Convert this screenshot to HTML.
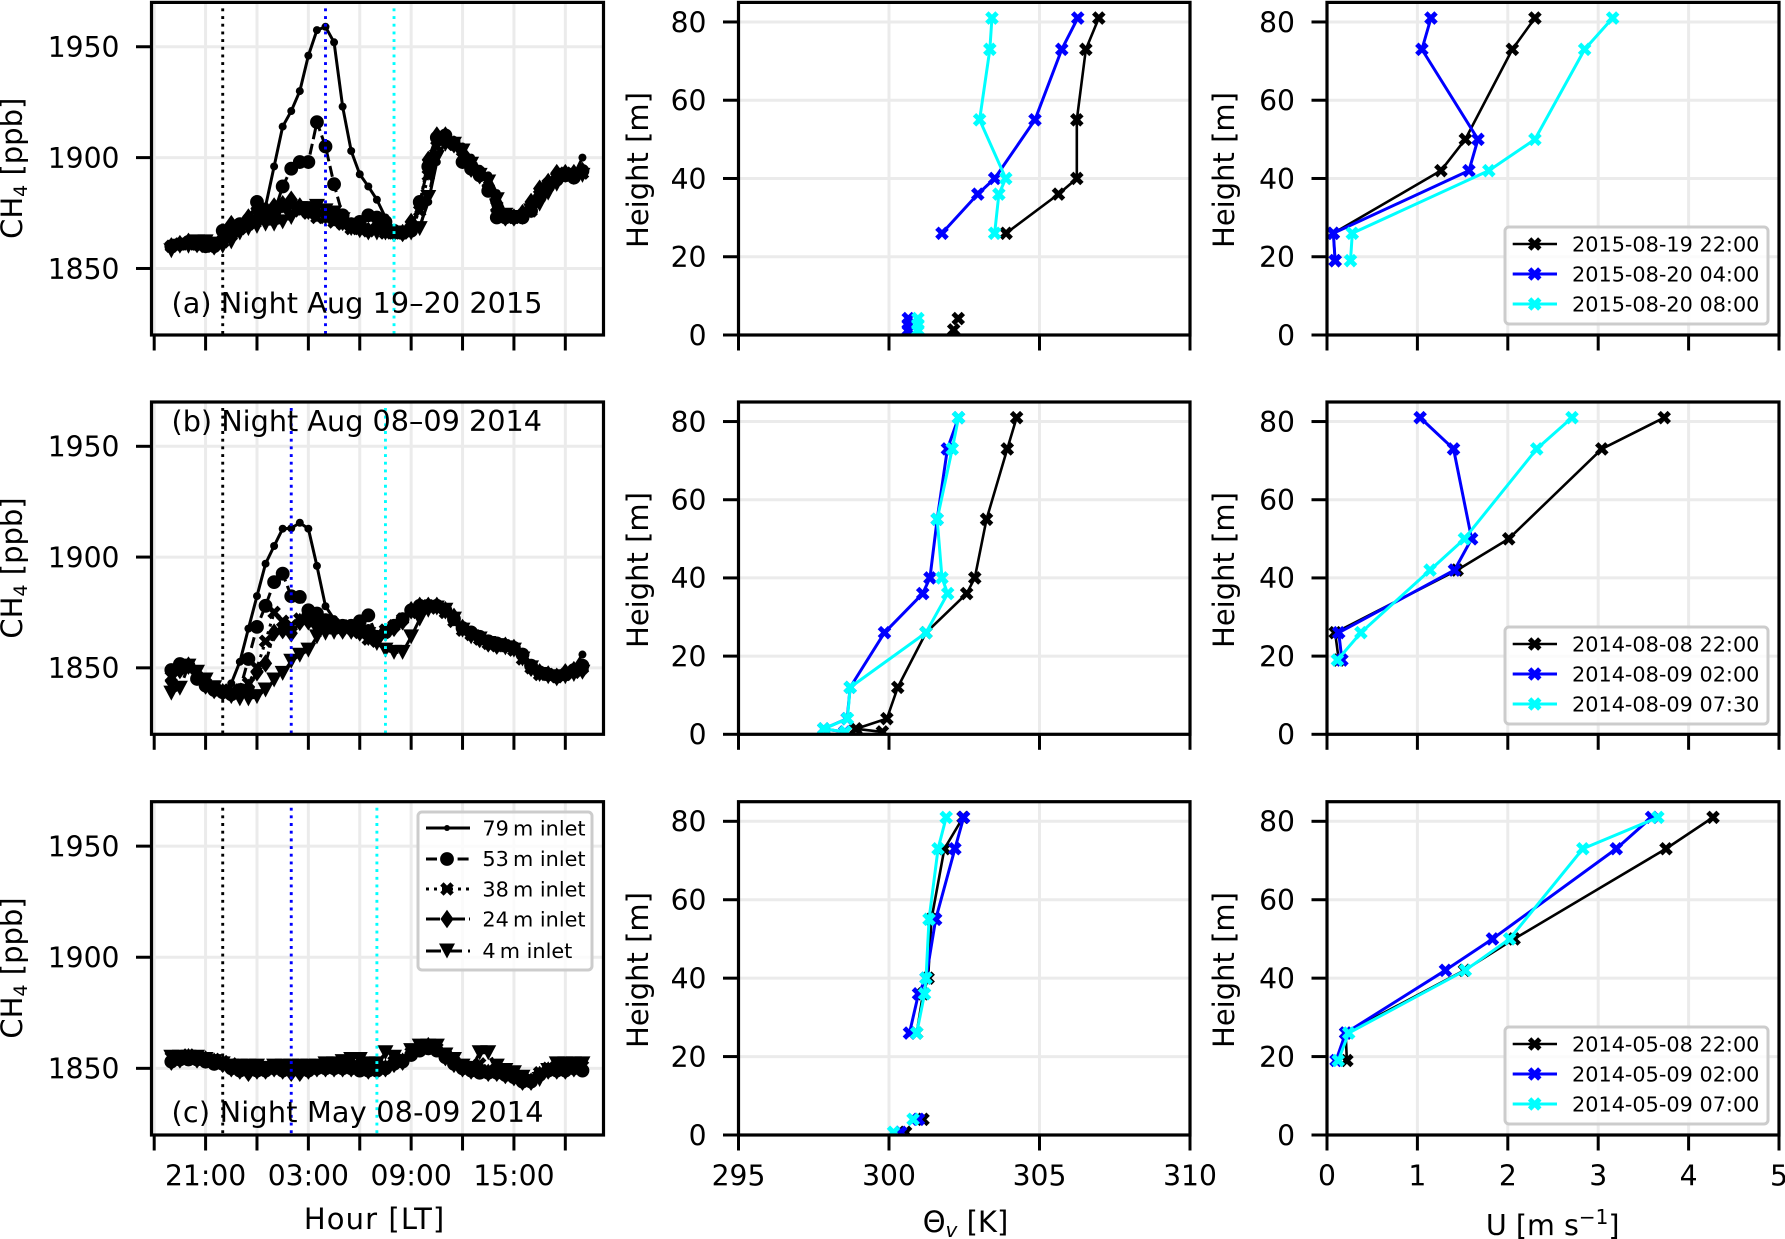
<!DOCTYPE html>
<html lang="en">
<head>
<meta charset="utf-8">
<title>CH4, virtual potential temperature and wind speed profiles</title>
<style>
html,body{margin:0;padding:0;background:#fff;}
svg{display:block;font-family:"DejaVu Sans",sans-serif;fill:#000;}
.tick{font-size:28.2px;}
.label{font-size:29px;}
.tag{font-size:28.7px;}
.leg{font-size:20.8px;}
</style>
</head>
<body>
<svg id="figure" xmlns="http://www.w3.org/2000/svg" width="1785" height="1239" viewBox="0 0 1785 1239">
  <defs id="clip-defs"></defs>
  <rect x="0" y="0" width="1785" height="1239" fill="#fff"/>
  <g id="plot-layer"></g>
  <g id="label-layer">
    <text class="label" transform="translate(22,168.3) rotate(-90)" text-anchor="middle">CH<tspan font-size="19" dy="5">4</tspan><tspan dy="-5"> [ppb]</tspan></text>
    <text class="label" transform="translate(22,568) rotate(-90)" text-anchor="middle">CH<tspan font-size="19" dy="5">4</tspan><tspan dy="-5"> [ppb]</tspan></text>
    <text class="label" transform="translate(22,968) rotate(-90)" text-anchor="middle">CH<tspan font-size="19" dy="5">4</tspan><tspan dy="-5"> [ppb]</tspan></text>

    <text class="label" transform="translate(648,170) rotate(-90)" text-anchor="middle">Height [m]</text>
    <text class="label" transform="translate(648,570) rotate(-90)" text-anchor="middle">Height [m]</text>
    <text class="label" transform="translate(648,970) rotate(-90)" text-anchor="middle">Height [m]</text>

    <text class="label" transform="translate(1234,170) rotate(-90)" text-anchor="middle">Height [m]</text>
    <text class="label" transform="translate(1234,570) rotate(-90)" text-anchor="middle">Height [m]</text>
    <text class="label" transform="translate(1234,970) rotate(-90)" text-anchor="middle">Height [m]</text>

    <text class="label" x="374.6" y="1229" text-anchor="middle" letter-spacing="1.1">Hour [LT]</text>
    <text class="label" x="965.5" y="1232" text-anchor="middle">Θ<tspan font-size="20" font-style="italic" dy="5">v</tspan><tspan dy="-5"> [K]</tspan></text>
    <text class="label" x="1552.7" y="1235" text-anchor="middle" style="font-size:28.6px">U [m s<tspan font-size="20" dy="-11">−1</tspan><tspan dy="11">]</tspan></text>

    <text class="tag" x="171.5" y="313" letter-spacing="0.05">(a) Night Aug 19–20 2015</text>
    <text class="tag" x="171.5" y="431">(b) Night Aug 08–09 2014</text>
    <text class="tag" x="171.5" y="1122" letter-spacing="0.2">(c) Night May 08-09 2014</text>

    <g id="legend-inlets">
      <rect x="418" y="812" width="174" height="158" rx="4" fill="#fff" fill-opacity="0.8" stroke="#ccc" stroke-width="3"/>
      <text class="leg" x="482.4" y="835.5">79&#8201;m inlet</text>
      <text class="leg" x="482.4" y="866">53&#8201;m inlet</text>
      <text class="leg" x="482.4" y="896.5">38&#8201;m inlet</text>
      <text class="leg" x="482.4" y="926.5">24&#8201;m inlet</text>
      <text class="leg" x="482.4" y="958">4&#8201;m inlet</text>
    </g>
    <g id="legend-a">
      <rect x="1505" y="227" width="263" height="97" rx="4" fill="#fff" fill-opacity="0.8" stroke="#ccc" stroke-width="3"/>
      <text class="leg" x="1572" y="251.5">2015-08-19 22:00</text>
      <text class="leg" x="1572" y="281.5">2015-08-20 04:00</text>
      <text class="leg" x="1572" y="311.5">2015-08-20 08:00</text>
    </g>
    <g id="legend-b">
      <rect x="1505" y="627" width="263" height="97" rx="4" fill="#fff" fill-opacity="0.8" stroke="#ccc" stroke-width="3"/>
      <text class="leg" x="1572" y="651.5">2014-08-08 22:00</text>
      <text class="leg" x="1572" y="681.5">2014-08-09 02:00</text>
      <text class="leg" x="1572" y="711.5">2014-08-09 07:30</text>
    </g>
    <g id="legend-c">
      <rect x="1505" y="1027" width="263" height="97" rx="4" fill="#fff" fill-opacity="0.8" stroke="#ccc" stroke-width="3"/>
      <text class="leg" x="1572" y="1051.5">2014-05-08 22:00</text>
      <text class="leg" x="1572" y="1081.5">2014-05-09 02:00</text>
      <text class="leg" x="1572" y="1111.5">2014-05-09 07:00</text>
    </g>
  </g>
</svg>
<script>
// ---- Axis tick values and labels ----
const hourTicks = [0, 3, 6, 9, 12, 15, 18, 21, 24];
const hourTickLabels = ['', '21:00', '', '03:00', '', '09:00', '', '15:00', ''];
const ch4Ticks = [1850, 1900, 1950];
const heightTicks = [0, 20, 40, 60, 80];
const thetaTicks = [295, 300, 305, 310];
const windTicks = [0, 1, 2, 3, 4, 5];

// ---- CH4 time axis: hours after 18:00 on the first day ----
const sampleTimes = [1,1.5,2,2.5,3,3.5,4,4.5,5,5.5,6,6.5,7,7.5,8,8.5,9,9.5,10,10.5,11,11.5,12,12.5,13,13.5,14,14.5,15,15.5,16,16.5,17,17.5,18,18.5,19,19.5,20,20.5,21,21.5,22,22.5,23,23.5,24,24.5,25];

// ---- Profile times marked with dotted lines (hours after 18:00) ----
const profileTimesA = [4, 10, 14];
const profileTimesB = [4, 8, 13.5];
const profileTimesC = [4, 8, 13];

// ---- Panel (a) CH4 [ppb] ----
const ch4A79 = [1861,1861,1862,1862,1861,1861,1864,1866,1868,1870,1873,1878,1896,1914,1921,1930,1946,1957.5,1959,1952,1923,1903,1892.5,1887,1881,1873,1867,1866,1866,1869,1880,1898,1908,1908,1905,1900,1895,1892,1884,1875,1873,1873,1876,1881,1886,1890,1892,1892,1900];
const ch4A53 = [1860,1861,1862,1861,1860,1860,1867,1868,1870,1872,1880,1876,1875,1887,1895,1898,1898,1916,1905,1888,1874,1870,1871,1874,1873,1871,1867,1866,1867,1880,1896,1909,1910,1906,1898,1895,1892,1885,1873,1873,1873,1873,1876,1882,1887,1890,1892,1891,1894];
const ch4A38 = [1860,1861,1861,1861,1860,1861,1862,1865,1868,1870,1874,1873,1875,1877,1878,1876,1875,1873,1873,1871,1870,1868,1868,1867,1868,1866,1866,1866,1868,1876,1892,1905,1908,1906,1900,1896,1893,1886,1878,1874,1873,1874,1876,1883,1888,1891,1893,1892,1893];
const ch4A24 = [1860,1861,1862,1861,1861,1860,1864,1870,1868,1873,1877,1874,1878,1879,1881,1878,1876,1875,1874,1873,1871,1869,1868,1867,1868,1867,1866,1866,1871,1879,1899,1910,1910,1906,1899,1895,1892,1887,1876,1873,1873,1875,1880,1886,1889,1893,1893,1893,1894];
const ch4A4 = [1858,1860,1860,1862,1862,1861,1860,1862,1866,1868,1869,1870,1870,1871,1873,1877,1877,1878,1876,1875,1872,1868,1867,1866,1866,1866,1866,1866,1866,1868,1882,1900,1906,1906,1903,1897,1892,1889,1881,1874,1873,1873,1876,1879,1884,1888,1892,1891,1892];

// ---- Panel (b) CH4 [ppb] ----
const ch4B79 = [1848,1851,1851,1846,1843,1841,1839,1843,1852.7,1867.7,1882.4,1897,1905,1912.8,1913,1915.5,1912.8,1896,1877.8,1872,1869,1870,1870,1868,1864,1866,1869,1871.5,1876,1878,1878,1878,1876,1873,1869,1866,1864,1862,1861,1860,1860,1857,1852,1848,1848,1847,1848,1850,1856];
const ch4B53 = [1849,1851.7,1851,1845,1842,1840,1839,1838,1840,1854,1868.5,1878,1888.7,1892.5,1882.3,1882,1876,1874.5,1871.5,1870,1869,1869,1871,1873.7,1864,1866,1869,1872,1876,1878,1878,1878,1876,1872,1868,1866,1864,1862,1861,1860,1859,1856,1851,1848,1847,1846,1847,1849,1851];
const ch4B38 = [1846,1850,1850,1846,1843,1841,1840,1839,1840,1843,1850,1862,1875,1871,1869,1872,1873,1871,1870,1868,1869,1868,1866,1863,1862,1867,1869,1872,1875,1877,1878,1877,1875,1871,1867,1865,1863,1861,1860,1860,1858,1854,1850,1847,1847,1846,1847,1848,1850];
const ch4B24 = [1844,1849,1851,1846,1842,1840,1839,1838,1838,1841,1848,1852,1866,1867,1865.6,1870.7,1871,1869,1868,1868,1867,1867,1866,1864,1863,1866,1868,1871,1876,1878,1878,1878,1876,1873,1868,1865,1863,1861,1860,1860,1859,1855,1850,1848,1847,1846,1848,1849,1849];
const ch4B4 = [1838.6,1840.8,1850.8,1848,1844.5,1841,1838,1837,1836,1836,1837,1840,1844.5,1847.5,1853,1855.7,1858,1864,1865.6,1866,1866,1866,1866,1865,1861,1858,1857,1857,1864,1872,1876,1877,1876,1872,1867,1864,1863,1861,1860,1859,1858,1854,1850,1847,1846,1845,1846,1847,1848];

// ---- Panel (c) CH4 [ppb] ----
const ch4C79 = [1854,1855,1855,1855,1854,1853,1853,1851,1850,1850,1850,1849,1850,1850,1850,1849,1850,1851,1851,1851,1851,1851,1851,1851,1850,1851,1853,1854,1857,1858,1859,1859,1856,1853,1851,1850,1849,1849,1849,1848,1847,1845,1845,1848,1850,1850,1850,1850,1851];
const ch4C53 = [1853,1854,1854,1854,1853,1852,1852,1850,1849,1849,1849,1849,1850,1849,1849,1849,1849,1850,1850,1850,1850,1850,1849,1849,1849,1850,1852,1853,1856,1858,1859,1858,1855,1852,1850,1849,1848,1848,1848,1847,1846,1844,1844,1847,1849,1849,1849,1850,1849];
const ch4C38 = [1855,1855,1856,1855,1854,1854,1853,1852,1851,1850,1850,1850,1851,1850,1850,1850,1851,1851,1852,1851,1851,1851,1851,1851,1851,1851,1853,1854,1857,1859,1860,1859,1856,1853,1851,1851,1852,1849,1849,1848,1847,1845,1845,1848,1850,1851,1850,1851,1851];
const ch4C24 = [1853,1854,1855,1854,1854,1853,1852,1850,1849,1848,1849,1849,1850,1849,1848,1848,1849,1850,1850,1850,1850,1850,1850,1849,1849,1850,1852,1853,1857,1859,1860,1859,1855,1852,1850,1849,1849,1848,1848,1847,1846,1844,1844,1847,1849,1849,1849,1850,1850];
const ch4C4 = [1855,1855,1855,1855,1854,1853,1852,1851,1851,1851,1851,1850,1851,1851,1851,1851,1851,1851,1852,1852,1853,1854,1854,1852,1852,1857,1855,1853,1858,1860,1860,1860,1856,1854,1851,1850,1857,1857,1851,1849,1848,1846,1844,1845,1849,1852,1852,1852,1852];

// ---- Virtual potential temperature profiles [K], heights [m]; null breaks the line ----
const thetaHeightsA = [81,73,55,40,36,26,12,4.2,2.7,1.3];
const thetaA1 = [306.97,306.54,306.24,306.24,305.63,303.89,null,302.30,null,302.15];
const thetaA2 = [306.27,305.74,304.85,303.51,302.95,301.76,null,300.64,300.64,300.64];
const thetaA3 = [303.42,303.35,303.01,303.88,303.65,303.51,null,300.96,300.96,300.96];

const thetaHeightsB = [81,73,55,40,36,26,12,4,1.4,0.6];
const thetaB1 = [304.24,303.93,303.24,302.85,302.58,301.23,300.29,299.93,298.90,299.78];
const thetaB2 = [302.31,301.94,301.60,301.36,301.12,299.85,298.71,298.61,297.83,298.53];
const thetaB3 = [302.31,302.10,301.60,301.76,301.95,301.23,298.71,298.62,297.83,298.55];

const thetaHeightsC = [81,73,55,40,36,26,12,4,2,0.7];
const thetaC1 = [302.46,301.84,301.41,301.30,301.13,300.92,null,301.13,null,300.55];
const thetaC2 = [302.48,302.19,301.55,301.23,300.98,300.68,null,300.98,null,300.39];
const thetaC3 = [301.90,301.63,301.33,301.23,301.18,300.92,null,300.80,null,300.15];

// ---- Wind speed profiles [m/s], heights [m] ----
const windHeights = [81,73,50,42,26,19];
const windA1 = [2.30,2.05,1.53,1.26,0.07,0.09];
const windA2 = [1.15,1.05,1.67,1.57,0.07,0.09];
const windA3 = [3.16,2.85,2.30,1.79,0.28,0.26];
const windB1 = [3.73,3.04,2.01,1.44,0.09,0.13];
const windB2 = [1.03,1.40,1.60,1.41,0.13,0.165];
const windB3 = [2.71,2.32,1.52,1.14,0.375,0.115];
const windC1 = [4.27,3.75,2.07,1.52,0.206,0.22];
const windC2 = [3.59,3.20,1.83,1.31,0.206,0.10];
const windC3 = [3.66,2.83,2.02,1.53,0.24,0.124];

// ---- Layout ----
const NS = 'http://www.w3.org/2000/svg';
const plotLayer = document.getElementById('plot-layer');
const clipDefs = document.getElementById('clip-defs');
const rowTops = [2.4, 402, 801.7];
const rowBottoms = [335, 734.3, 1135];
const columnLefts = [151.5, 738.5, 1327];
const columnRights = [603.5, 1190, 1779];
const traceColors = ['#000000', '#0000ff', '#00ffff'];
const traceWidths = [2.6, 3, 3];
const rowKeys = ['a', 'b', 'c'];
const columnKeys = ['ch4', 'theta', 'wind'];

// ---- Axis functions ----
function xTime(t) { return 154.2 + t * 17.13; }
function xTheta(v) { return 738.5 + (v - 295) * 30.1; }
function xWind(v) { return 1327 + v * 90.4; }
function yCh4(v, row) { return rowBottoms[row] - (v - 1820) / 150 * (rowBottoms[row] - rowTops[row]); }
function yHeight(v, row) { return rowBottoms[row] - v / 85 * (rowBottoms[row] - rowTops[row]); }

function make(tag, attrs, parent) {
  const node = document.createElementNS(NS, tag);
  for (const key in attrs) node.setAttribute(key, attrs[key]);
  parent.appendChild(node);
  return node;
}

function shapePath(kind, cx, cy) {
  if (kind === 'dot') {
    return 'M' + (cx - 4) + ' ' + cy + 'a4 4 0 1 0 8 0a4 4 0 1 0 -8 0Z';
  }
  if (kind === 'legend-dot') {
    return 'M' + (cx - 3) + ' ' + cy + 'a3 3 0 1 0 6 0a3 3 0 1 0 -6 0Z';
  }
  if (kind === 'circle') {
    return 'M' + (cx - 6.9) + ' ' + cy + 'a6.9 6.9 0 1 0 13.8 0a6.9 6.9 0 1 0 -13.8 0Z';
  }
  if (kind === 'diamond') {
    return 'M' + cx + ' ' + (cy - 9.2) + 'L' + (cx + 6.6) + ' ' + cy + 'L' + cx + ' ' + (cy + 9.2) + 'L' + (cx - 6.6) + ' ' + cy + 'Z';
  }
  if (kind === 'triangle') {
    return 'M' + (cx - 8) + ' ' + (cy - 7.5) + 'L' + (cx + 8) + ' ' + (cy - 7.5) + 'L' + cx + ' ' + (cy + 7.5) + 'Z';
  }
  const u = 3.4;
  const pts = [[-1,-2],[0,-1],[1,-2],[2,-1],[1,0],[2,1],[1,2],[0,1],[-1,2],[-2,1],[-1,0],[-2,-1]];
  return 'M' + pts.map(p => (cx + p[0] * u) + ' ' + (cy + p[1] * u)).join('L') + 'Z';
}

function linePath(xs, ys) {
  let d = '';
  let pen = false;
  for (let i = 0; i < xs.length; i++) {
    if (xs[i] === null || ys[i] === null) { pen = false; continue; }
    d += (pen ? 'L' : 'M') + xs[i].toFixed(2) + ' ' + ys[i].toFixed(2);
    pen = true;
  }
  return d;
}

function drawGrid(group, col, row, xPositions, yPositions) {
  xPositions.forEach(function (x) {
    const g = make('line', { x1: x, x2: x, y1: rowTops[row], y2: rowBottoms[row], stroke: '#ebebeb', 'stroke-width': 3 }, group);
    
    
  });
  yPositions.forEach(function (y) {
    const g = make('line', { x1: columnLefts[col], x2: columnRights[col], y1: y, y2: y, stroke: '#ebebeb', 'stroke-width': 3 }, group);
    
    
  });
}

function drawFrame(group, col, row, xPositions, xLabels, yPositions, yLabels) {
  const box = make('rect', { x: columnLefts[col], y: rowTops[row], width: columnRights[col] - columnLefts[col], height: rowBottoms[row] - rowTops[row], fill: 'none', stroke: '#000', 'stroke-width': 3.2 }, group);
  
  
  xPositions.forEach(function (x, i) {
    const t = make('line', { x1: x, x2: x, y1: rowBottoms[row], y2: rowBottoms[row] + 15.5, stroke: '#000', 'stroke-width': 3 }, group);
    
    
    if (row === 2 && xLabels[i] !== '') {
      const label = make('text', { x: x, y: 1185.5, 'text-anchor': 'middle', class: 'tick' }, group);
      label.textContent = xLabels[i];
      
      
    }
  });
  yPositions.forEach(function (y, i) {
    const t = make('line', { x1: columnLefts[col] - 15.5, x2: columnLefts[col], y1: y, y2: y, stroke: '#000', 'stroke-width': 3 }, group);
    
    
    const label = make('text', { x: columnLefts[col] - 32, y: y + 10.3, 'text-anchor': 'end', class: 'tick' }, group);
    label.textContent = yLabels[i];
    
    
  });
}

function addClip(col, row) {
  const id = 'clip-' + col + '-' + row;
  const clip = make('clipPath', { id: id }, clipDefs);
  make('rect', { x: columnLefts[col], y: rowTops[row], width: columnRights[col] - columnLefts[col], height: rowBottoms[row] - rowTops[row] }, clip);
  return id;
}

const inletStyles = [
  { key: '79m', marker: 'dot', legendMarker: 'legend-dot', dash: 'none' },
  { key: '53m', marker: 'circle', legendMarker: 'circle', dash: '11 4.8' },
  { key: '38m', marker: 'cross', legendMarker: 'cross', dash: '3 5' },
  { key: '24m', marker: 'diamond', legendMarker: 'diamond', dash: '14 4 3 4' },
  { key: '4m', marker: 'triangle', legendMarker: 'triangle', dash: '15 6' }
];

function drawCh4Panel(row, seriesList, profileTimes) {
  const group = make('g', {}, plotLayer);
  
  
  const tickX = hourTicks.map(xTime);
  const tickY = ch4Ticks.map(v => yCh4(v, row));
  drawGrid(group, 0, row, tickX, tickY);
  const clipId = addClip(0, row);
  const inner = make('g', { 'clip-path': 'url(#' + clipId + ')' }, group);
  
  
  seriesList.forEach(function (values, s) {
    const xs = sampleTimes.map(xTime);
    const ys = values.map(v => v === null ? null : yCh4(v, row));
    const line = make('path', { d: linePath(xs, ys), fill: 'none', stroke: '#000', 'stroke-width': 3, 'stroke-linejoin': 'round', 'stroke-dasharray': inletStyles[s].dash }, inner);
    
    
    values.forEach(function (v, i) {
      if (v === null) return;
      const mark = make('path', { d: shapePath(inletStyles[s].marker, xs[i], ys[i]), fill: '#000' }, inner);
      
      
    });
  });
  profileTimes.forEach(function (t, i) {
    const rule = make('line', { x1: xTime(t), x2: xTime(t), y1: rowTops[row] + 6, y2: rowBottoms[row], stroke: traceColors[i], 'stroke-width': 2.9, 'stroke-dasharray': '2.9 4.78' }, inner);
    
    
  });
  drawFrame(group, 0, row, tickX, hourTickLabels, tickY, ch4Ticks.map(String));
}

function drawProfilePanel(col, row, heights, seriesList, xScale, xTicks) {
  const group = make('g', {}, plotLayer);
  
  
  const tickX = xTicks.map(xScale);
  const tickY = heightTicks.map(v => yHeight(v, row));
  drawGrid(group, col, row, tickX, tickY);
  const clipId = addClip(col, row);
  const inner = make('g', { 'clip-path': 'url(#' + clipId + ')' }, group);
  
  
  seriesList.forEach(function (values, s) {
    const xs = values.map(v => v === null ? null : xScale(v));
    const ys = heights.map(v => yHeight(v, row));
    const line = make('path', { d: linePath(xs, ys), fill: 'none', stroke: traceColors[s], 'stroke-width': traceWidths[s], 'stroke-linejoin': 'round' }, inner);
    
    
    values.forEach(function (v, i) {
      if (v === null) return;
      const mark = make('path', { d: shapePath('cross', xs[i], ys[i]), fill: traceColors[s] }, inner);
      
      
    });
  });
  drawFrame(group, col, row, tickX, xTicks.map(String), tickY, heightTicks.map(String));
}

function drawTimeLegendHandles(groupId, centers) {
  const group = document.getElementById(groupId);
  centers.forEach(function (cy, i) {
    const line = make('line', { x1: 1512.7, x2: 1557, y1: cy, y2: cy, stroke: traceColors[i], 'stroke-width': traceWidths[i] }, group);
    
    
    const mark = make('path', { d: shapePath('cross', 1534.7, cy), fill: traceColors[i] }, group);
    
    
  });
}

function drawInletLegendHandles(centers) {
  const group = document.getElementById('legend-inlets');
  centers.forEach(function (cy, i) {
    const line = make('line', { x1: 426, x2: 470, y1: cy, y2: cy, stroke: '#000', 'stroke-width': 3, 'stroke-dasharray': inletStyles[i].dash }, group);
    
    
    const mark = make('path', { d: shapePath(inletStyles[i].legendMarker, 447, cy), fill: '#000' }, group);
    
    
  });
}

drawCh4Panel(0, [ch4A79, ch4A53, ch4A38, ch4A24, ch4A4], profileTimesA);
drawCh4Panel(1, [ch4B79, ch4B53, ch4B38, ch4B24, ch4B4], profileTimesB);
drawCh4Panel(2, [ch4C79, ch4C53, ch4C38, ch4C24, ch4C4], profileTimesC);

drawProfilePanel(1, 0, thetaHeightsA, [thetaA1, thetaA2, thetaA3], xTheta, thetaTicks);
drawProfilePanel(1, 1, thetaHeightsB, [thetaB1, thetaB2, thetaB3], xTheta, thetaTicks);
drawProfilePanel(1, 2, thetaHeightsC, [thetaC1, thetaC2, thetaC3], xTheta, thetaTicks);

drawProfilePanel(2, 0, windHeights, [windA1, windA2, windA3], xWind, windTicks);
drawProfilePanel(2, 1, windHeights, [windB1, windB2, windB3], xWind, windTicks);
drawProfilePanel(2, 2, windHeights, [windC1, windC2, windC3], xWind, windTicks);

drawTimeLegendHandles('legend-a', [244, 274, 304]);
drawTimeLegendHandles('legend-b', [644, 674, 704]);
drawTimeLegendHandles('legend-c', [1044, 1074, 1104]);
drawInletLegendHandles([828, 859, 889, 919, 951]);
</script>
</body>
</html>
